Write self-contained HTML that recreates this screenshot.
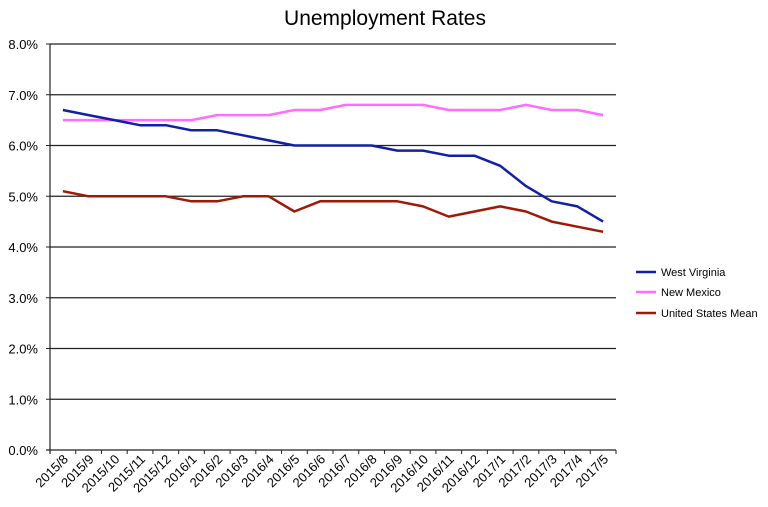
<!DOCTYPE html>
<html><head><meta charset="utf-8"><style>
body{margin:0;background:#fff;}
svg{display:block;font-family:"Liberation Sans",sans-serif;}
</style></head><body>
<svg id="c" width="768" height="507" xmlns="http://www.w3.org/2000/svg">
<text x="385" y="25" font-size="21" text-anchor="middle" fill="#000">Unemployment Rates</text>
<g id="g"></g>
<line x1="636" y1="272" x2="656" y2="272" stroke="#1020a8" stroke-width="2.5"/>
<text x="661" y="276" font-size="11">West Virginia</text>
<line x1="636" y1="292" x2="656" y2="292" stroke="#ff6cff" stroke-width="2.5"/>
<text x="661" y="296" font-size="11">New Mexico</text>
<line x1="636" y1="313" x2="656" y2="313" stroke="#a01808" stroke-width="2.5"/>
<text x="661" y="317" font-size="11">United States Mean</text>
</svg>
<script>
var g=document.getElementById('g'),s='';
var L=50,R=616,B=450,S=50.75,W=(R-L)/22;
for(var v=0;v<=8;v++){var y=B-v*S;
 s+='<line x1="'+(v?L:L-4)+'" y1="'+y+'" x2="'+R+'" y2="'+y+'" stroke="#222" stroke-width="1.2"/>';
 s+='<line x1="'+(L-4)+'" y1="'+y+'" x2="'+L+'" y2="'+y+'" stroke="#222"/>';
 s+='<text x="38" y="'+(y+5)+'" font-size="13" text-anchor="end">'+v+'.0%</text>';}
s+='<line x1="'+L+'" y1="'+(B-8*S)+'" x2="'+L+'" y2="'+(B+4)+'" stroke="#222" stroke-width="1.2"/>';
var labs=[];for(var i=0;i<22;i++){var m=8+i,yr=2015+Math.floor((m-1)/12);m=(m-1)%12+1;labs.push(yr+'/'+m);}
for(var i=0;i<=22;i++){var x=L+i*W;s+='<line x1="'+x+'" y1="'+B+'" x2="'+x+'" y2="'+(B+4)+'" stroke="#222"/>';}
for(var i=0;i<22;i++){var x=L+W/2+i*W+6;
 s+='<text transform="translate('+x+','+(B+10)+') rotate(-45)" font-size="13" text-anchor="end">'+labs[i]+'</text>';}
function line(d,c){var p=d.map(function(v,i){return (L+W/2+i*W).toFixed(1)+','+(B-v*S).toFixed(1)}).join(' ');
 return '<polyline points="'+p+'" fill="none" stroke="'+c+'" stroke-width="2.5" stroke-linejoin="round"/>';}
s+=line([6.5,6.5,6.5,6.5,6.5,6.5,6.6,6.6,6.6,6.7,6.7,6.8,6.8,6.8,6.8,6.7,6.7,6.7,6.8,6.7,6.7,6.6],'#ff6cff');
s+=line([6.7,6.6,6.5,6.4,6.4,6.3,6.3,6.2,6.1,6.0,6.0,6.0,6.0,5.9,5.9,5.8,5.8,5.6,5.2,4.9,4.8,4.5],'#1020a8');
s+=line([5.1,5.0,5.0,5.0,5.0,4.9,4.9,5.0,5.0,4.7,4.9,4.9,4.9,4.9,4.8,4.6,4.7,4.8,4.7,4.5,4.4,4.3],'#a01808');
g.innerHTML=s;
</script>
</body></html>
